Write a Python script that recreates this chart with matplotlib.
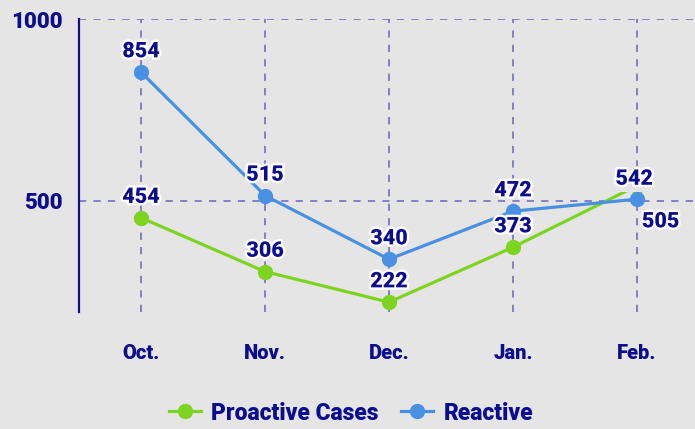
import matplotlib.pyplot as plt
import matplotlib.patheffects as pe

months = ["Oct.", "Nov.", "Dec.", "Jan.", "Feb."]
proactive = [454, 306, 222, 373, 542]
reactive = [854, 515, 340, 472, 505]
yticks = [500, 1000]

bg = "#e5e5e5"
navy = "#0c0c8e"
green = "#7ed321"
blue = "#4a90e2"
gridc = "#7a78c2"
wt = 'black'

plt.rcParams['font.family'] = ['Roboto', 'DejaVu Sans']
plt.rcParams['font.weight'] = wt

fig = plt.figure(figsize=(6.95, 4.29), dpi=100, facecolor=bg)
ax = fig.add_axes([79/695, 1-312/429, 620/695, (312-19)/429])
ax.set_facecolor(bg)

x = list(range(len(months)))
ax.plot(x, proactive, color=green, lw=2.3, marker='o', ms=10, zorder=3, label="Proactive Cases")
ax.plot(x, reactive, color=blue, lw=2.3, marker='o', ms=10, zorder=4, label="Reactive")

ax.set_xlim(-0.5, 4.5)
ax.set_ylim(195, 1000)
ax.set_xticks(x)
ax.set_xticklabels(months)
ax.set_yticks(yticks)
ax.tick_params(length=0, colors=navy)
ax.tick_params(axis='x', pad=23, labelsize=14.5)
ax.tick_params(axis='y', pad=12, labelsize=16)
for lab in ax.get_xticklabels() + ax.get_yticklabels():
    lab.set_fontweight(wt)
    lab.set_color(navy)

ax.grid(True, color=gridc, ls=(0, (4, 4)), lw=1.3)
for s in ['top', 'right', 'bottom']:
    ax.spines[s].set_visible(False)
ax.spines['left'].set_color(navy)
ax.spines['left'].set_linewidth(1.6)

fs = 15.5
halo = [pe.withStroke(linewidth=3.5, foreground='white')]
for i, v in enumerate(reactive):
    if i == 4:
        ax.annotate(str(v), (i, v), xytext=(17, -16), textcoords='offset points',
                    ha='center', va='center', fontsize=fs, fontweight=wt,
                    color=navy, path_effects=halo, zorder=6)
    else:
        ax.annotate(str(v), (i, v), xytext=(0, 15), textcoords='offset points',
                    ha='center', va='center', fontsize=fs, fontweight=wt,
                    color=navy, path_effects=halo, zorder=6)
for i, v in enumerate(proactive):
    if i == 4:
        ax.annotate(str(v), (i, v), xytext=(-2, 5), textcoords='offset points',
                    ha='center', va='center', fontsize=fs, fontweight=wt,
                    color=navy, path_effects=halo, zorder=5,
                    bbox=dict(boxstyle='square,pad=0.1', fc=bg, ec='none'))
    else:
        ax.annotate(str(v), (i, v), xytext=(0, 15), textcoords='offset points',
                    ha='center', va='center', fontsize=fs, fontweight=wt,
                    color=navy, path_effects=halo, zorder=6)

leg = fig.legend(loc='center', bbox_to_anchor=(351/695, 1-413/429), ncol=2, frameon=False,
                 fontsize=16.5, handlelength=1.4, columnspacing=1.0, handletextpad=0.45)
for t in leg.get_texts():
    t.set_color(navy)
    t.set_fontweight(wt)

fig.savefig("out.png", dpi=100, facecolor=bg)
